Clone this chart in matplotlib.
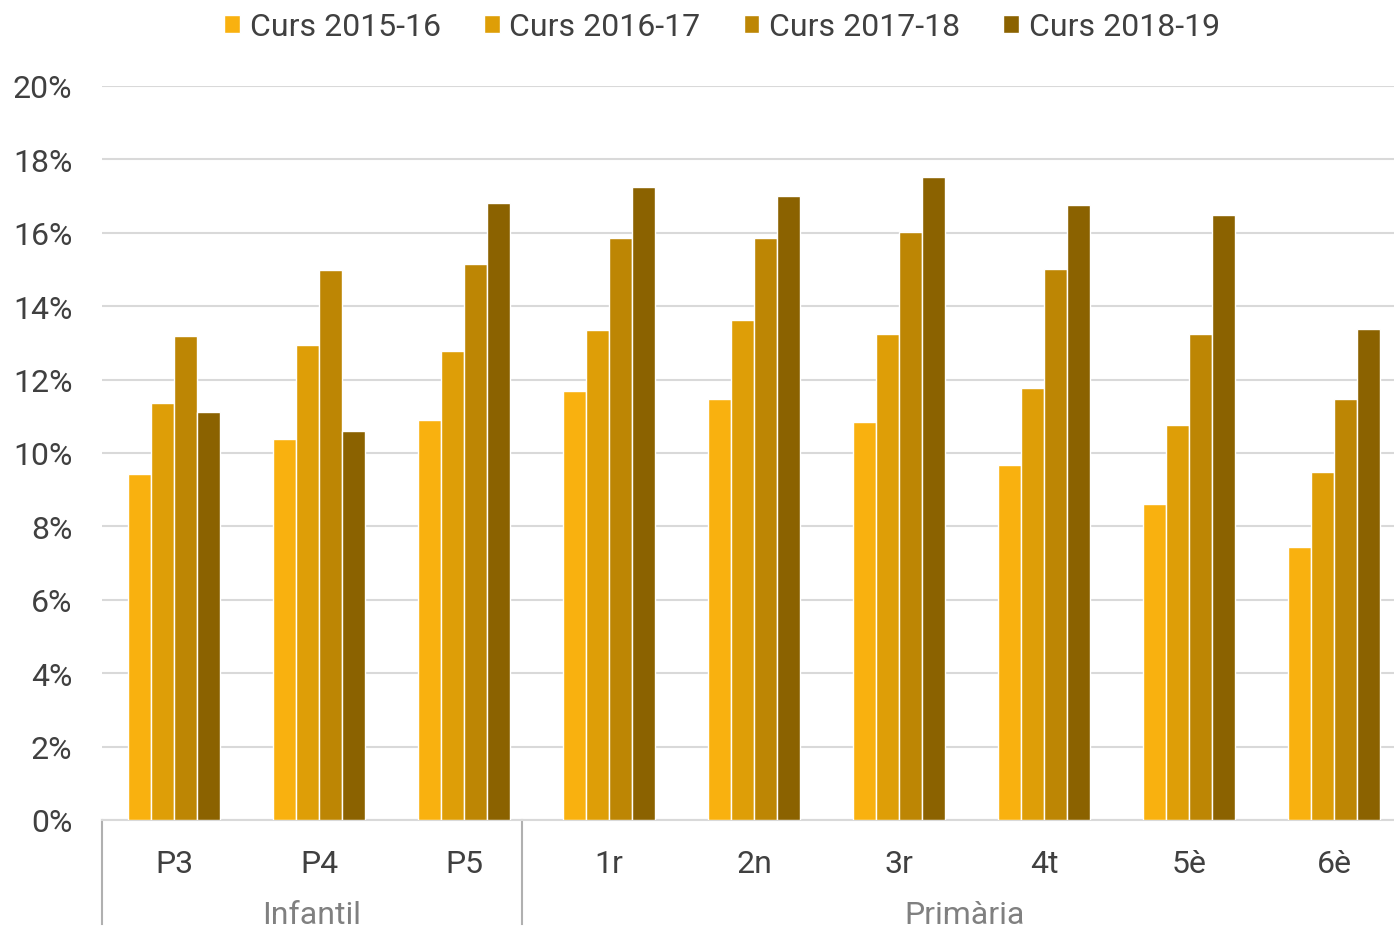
import numpy as np
import matplotlib
matplotlib.use("Agg")
import matplotlib.pyplot as plt
from matplotlib.transforms import blended_transform_factory
from matplotlib.ticker import FuncFormatter

plt.rcParams['font.family'] = ['Roboto', 'DejaVu Sans']

cursos = ["P3", "P4", "P5", "1r", "2n", "3r", "4t", "5è", "6è"]
series = ["Curs 2015-16", "Curs 2016-17", "Curs 2017-18", "Curs 2018-19"]
v_2015 = [9.43, 10.38, 10.90, 11.69, 11.47, 10.84, 9.67, 8.61, 7.44]
v_2016 = [11.36, 12.94, 12.78, 13.35, 13.62, 13.24, 11.77, 10.76, 9.48]
v_2017 = [13.19, 14.99, 15.15, 15.86, 15.86, 16.02, 15.01, 13.24, 11.47]
v_2018 = [11.12, 10.60, 16.81, 17.25, 17.00, 17.52, 16.76, 16.49, 13.38]
etapes = ["Infantil", "Primària"]

colors = ["#F9B10F", "#DE9E07", "#BD8604", "#8B6200"]
text_col = "#404040"
grid_col = "#d9d9d9"
fs = 23

W, H = 1394, 928
fig = plt.figure(figsize=(W / 100, H / 100), dpi=100)
ax = fig.add_axes([101.5 / W, 1 - 821 / H, 1305 / W, 734 / H])

x = np.arange(len(cursos))
w = 0.159
vals = [v_2015, v_2016, v_2017, v_2018]
for i, (s, v) in enumerate(zip(series, vals)):
    ax.bar(x + (i - 1.5) * w, v, w, color=colors[i], edgecolor="white",
           linewidth=1, label=s, zorder=3)

ax.set_xlim(-0.5, len(cursos) - 0.5)
ax.set_ylim(0, 20)
ax.set_yticks(np.arange(0, 21, 2))
ax.yaxis.set_major_formatter(FuncFormatter(lambda v, p: f"{v:.0f}%"))
ax.grid(axis="y", color=grid_col, linewidth=1.5, zorder=0)
for sp in ["top", "right", "left"]:
    ax.spines[sp].set_visible(False)
ax.spines["bottom"].set_color(grid_col)
ax.spines["bottom"].set_linewidth(1.5)
ax.tick_params(axis="y", length=0, labelsize=fs, labelcolor=text_col, pad=21)
ax.set_xticks(x)
ax.set_xticklabels(cursos)
ax.tick_params(axis="x", length=0, labelsize=fs, labelcolor=text_col, pad=21)

# category groups
tr = blended_transform_factory(ax.transData, ax.transAxes)
bottom = -104 / 734
bounds = [-0.5, 2.4, len(cursos) - 0.5]
for sx in bounds[:-1]:
    ax.plot([sx, sx], [0, bottom], transform=tr, color="#b0b0b0",
            linewidth=1.5, clip_on=False)
for j, et in enumerate(etapes):
    cx = (bounds[j] + bounds[j + 1]) / 2
    ax.text(cx, -95 / 734, et, transform=tr, ha="center", va="center",
            fontsize=fs, color="#808080")

fig.legend(loc="center", bbox_to_anchor=(722 / W, 1 - 28 / H), ncol=4,
           frameon=False, fontsize=fs, labelcolor=text_col,
           handlelength=0.5, handleheight=0.5, handletextpad=0.3,
           columnspacing=1.35)

fig.savefig("out.png", dpi=100)
